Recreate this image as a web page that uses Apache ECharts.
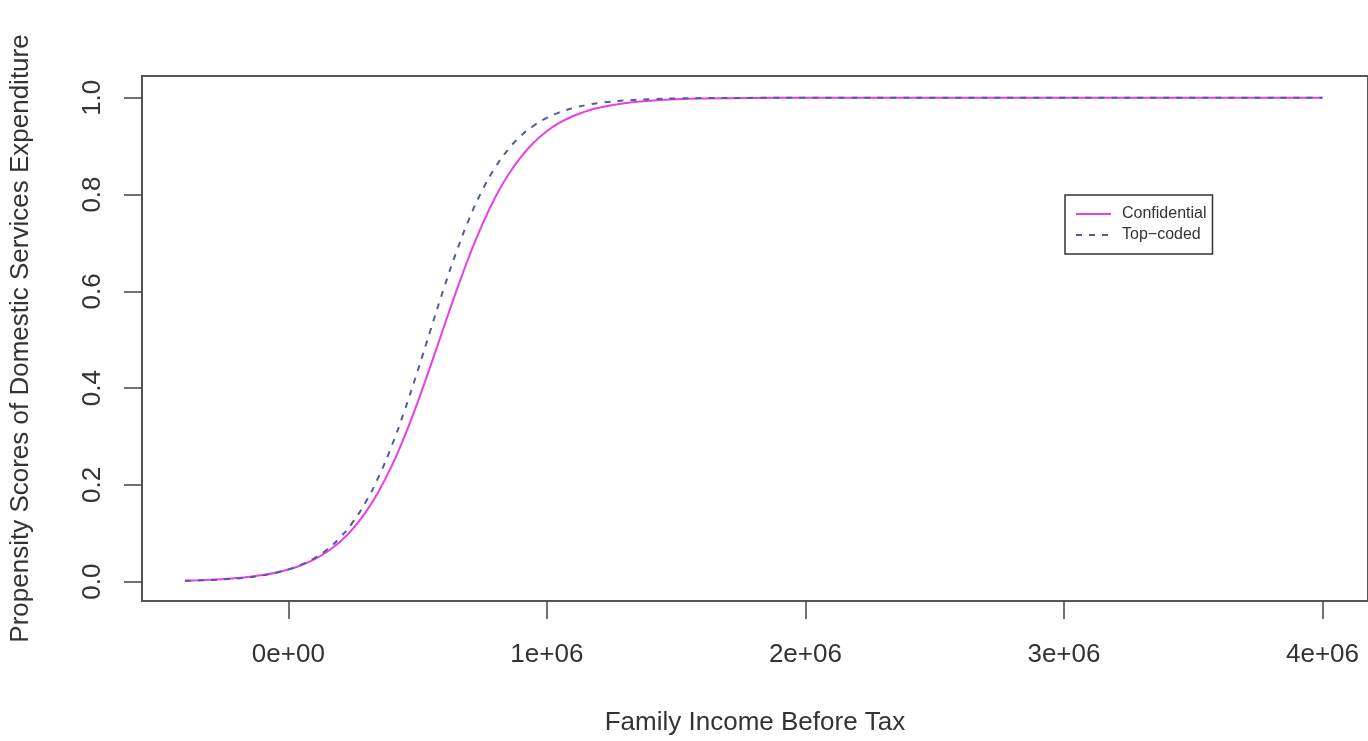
<!DOCTYPE html>
<html>
<head>
<meta charset="utf-8">
<title>Propensity Scores</title>
<script src="https://cdn.jsdelivr.net/npm/echarts@6/dist/echarts.min.js"></script>
<style>
  html, body { margin: 0; padding: 0; background: #fff; }
  #main { width: 1368px; height: 741px; }
</style>
</head>
<body>
<div id="main"></div>
<script>
// family income before tax (x)
var incomeX = [
  -400000, -350000, -300000, -250000, -200000, -150000, -100000, -50000,
  0, 50000, 100000, 150000, 200000, 250000, 300000, 350000, 400000,
  450000, 500000, 550000, 600000, 650000, 700000, 750000, 800000,
  850000, 900000, 950000, 1000000, 1050000, 1100000, 1150000, 1200000,
  1300000, 1400000, 1500000, 1600000, 1800000, 2000000, 2500000,
  3000000, 3500000, 4000000
];
// propensity scores, confidential data
var confidential = [
  0.0021, 0.0029, 0.0039, 0.0054, 0.0073, 0.0100, 0.0136, 0.0185,
  0.0251, 0.0340, 0.0459, 0.0617, 0.0825, 0.1096, 0.1441, 0.1871, 0.2394,
  0.3010, 0.3705, 0.4460, 0.5240, 0.6008, 0.6730, 0.7379, 0.7938,
  0.8404, 0.8780, 0.9078, 0.9309, 0.9485, 0.9618, 0.9718, 0.9792,
  0.9888, 0.9940, 0.9968, 0.9983, 0.9995, 0.9999, 1.0,
  1.0, 1.0, 1.0
];
// propensity scores, top-coded data
var topCoded = [
  0.0017, 0.0024, 0.0033, 0.0047, 0.0066, 0.0092, 0.0129, 0.0180,
  0.0251, 0.0349, 0.0483, 0.0666, 0.0911, 0.1235, 0.1652, 0.2175, 0.2809,
  0.3543, 0.4354, 0.5200, 0.6035, 0.6813, 0.7503, 0.8085, 0.8557,
  0.8929, 0.9213, 0.9427, 0.9585, 0.9701, 0.9785, 0.9846, 0.9890,
  0.9944, 0.9972, 0.9986, 0.9993, 0.9998, 1.0, 1.0,
  1.0, 1.0, 1.0
];
var xTicks = [0, 1000000, 2000000, 3000000, 4000000];
var xTickLabels = ['0e+00', '1e+06', '2e+06', '3e+06', '4e+06'];
var yTicks = [0, 0.2, 0.4, 0.6, 0.8, 1.0];
var yTickLabels = ['0.0', '0.2', '0.4', '0.6', '0.8', '1.0'];

function pairs(xs, ys) {
  return xs.map(function (x, i) { return [x, ys[i]]; });
}

var font = 'Liberation Sans, Arial, sans-serif';
var chart = echarts.init(document.getElementById('main'));
var option = {
  animation: false,
  backgroundColor: '#fff',
  grid: {
    left: 140,
    top: 76,
    width: 1232,
    height: 530,
    show: true,
    borderColor: '#555',
    borderWidth: 2,
    containLabel: false
  },
  legend: {
    orient: 'vertical',
    left: 1065,
    top: 195,
    padding: [11, 6, 11, 10],
    itemGap: 5,
    itemWidth: 35,
    itemHeight: 14,
    borderColor: '#333',
    borderWidth: 1.5,
    borderRadius: 0,
    itemStyle: { color: 'transparent', borderWidth: 0 },
    textStyle: { fontFamily: font, fontSize: 16, color: '#333', padding: [0, 0, 0, 6] },
    data: ['Confidential', 'Top\u2212coded']
  },
  xAxis: {
    type: 'value',
    min: -566000,
    max: 4176000,
    name: 'Family Income Before Tax',
    nameLocation: 'middle',
    nameGap: 109,
    nameTextStyle: { fontFamily: font, fontSize: 26, color: '#333' },
    axisLine: { show: false, onZero: false },
    splitLine: { show: false },
    axisTick: {
      show: true,
      inside: false,
      length: 18,
      customValues: xTicks,
      lineStyle: { color: '#444', width: 1.5 }
    },
    axisLabel: {
      customValues: xTicks,
      margin: 41,
      fontFamily: font,
      fontSize: 26,
      color: '#333',
      formatter: function (v) {
        var i = xTicks.indexOf(v);
        return i >= 0 ? xTickLabels[i] : '';
      }
    }
  },
  yAxis: {
    type: 'value',
    min: -0.04,
    max: 1.045,
    name: 'Propensity Scores of Domestic Services Expenditure',
    nameLocation: 'middle',
    nameGap: 108,
    nameTextStyle: { fontFamily: font, fontSize: 26, color: '#333' },
    axisLine: { show: false, onZero: false },
    splitLine: { show: false },
    axisTick: {
      show: true,
      inside: false,
      length: 18,
      customValues: yTicks,
      lineStyle: { color: '#444', width: 1.5 }
    },
    axisLabel: {
      customValues: yTicks,
      rotate: 90,
      margin: 36,
      fontFamily: font,
      fontSize: 26,
      color: '#333',
      formatter: function (v) {
        for (var i = 0; i < yTicks.length; i++) {
          if (Math.abs(yTicks[i] - v) < 1e-9) return yTickLabels[i];
        }
        return '';
      }
    }
  },
  series: [
    {
      name: 'Confidential',
      type: 'line',
      smooth: true,
      showSymbol: false,
      symbol: 'none',
      lineStyle: { color: '#e640e6', width: 2 },
      itemStyle: { color: '#e640e6' },
      data: pairs(incomeX, confidential)
    },
    {
      name: 'Top\u2212coded',
      type: 'line',
      smooth: true,
      showSymbol: false,
      symbol: 'none',
      lineStyle: { color: '#4f5c9e', width: 2, type: [6, 7] },
      itemStyle: { color: '#4f5c9e' },
      data: pairs(incomeX, topCoded)
    }
  ]
};
chart.setOption(option);
</script>
</body>
</html>
